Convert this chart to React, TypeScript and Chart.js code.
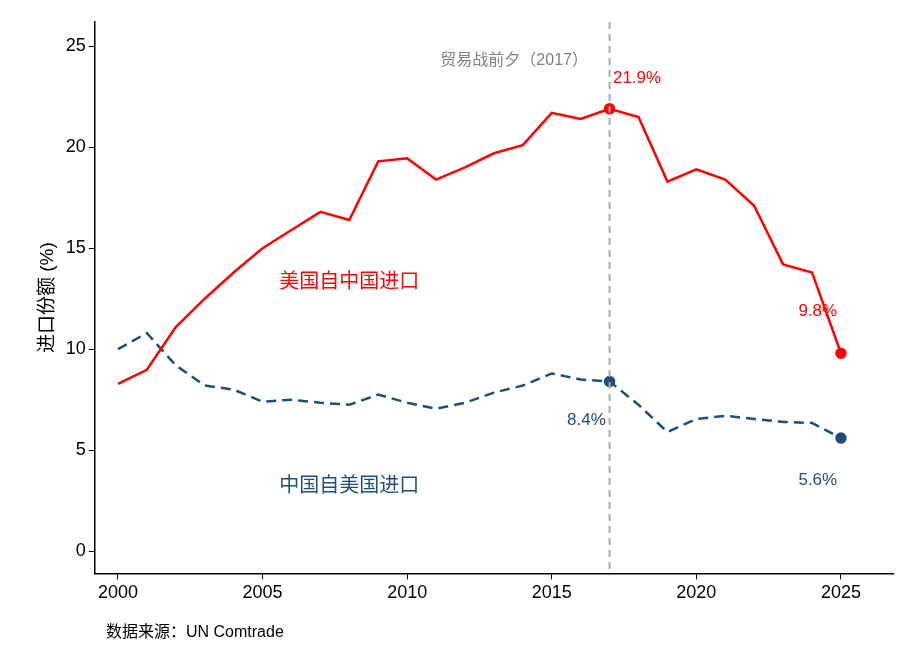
import React, { useEffect, useRef } from "react";
import { Chart, registerables } from "chart.js";
Chart.register(...registerables);

const years = [2000,2001,2002,2003,2004,2005,2006,2007,2008,2009,2010,2011,2012,2013,2014,2015,2016,2017,2018,2019,2020,2021,2022,2023,2024,2025];
const usFromChina = [8.28,8.98,11.1,12.5,13.8,15.0,15.9,16.8,16.4,19.3,19.45,18.4,19.0,19.7,20.1,21.7,21.4,21.9,21.5,18.3,18.9,18.4,17.1,14.2,13.8,9.8];
const chinaFromUS = [10.0,10.8,9.2,8.2,8.0,7.4,7.5,7.35,7.25,7.75,7.35,7.05,7.35,7.85,8.2,8.8,8.5,8.4,7.25,5.9,6.55,6.7,6.55,6.4,6.35,5.6];
const xTicks = [2000,2005,2010,2015,2020,2025];
const yTicks = [0,5,10,15,20,25];
const RED = "#ff0000";
const BLUE = "#1f4e79";
const FONT = "'Liberation Sans', 'Noto Sans CJK SC', sans-serif";

export default function App() {
  const ref = useRef<HTMLCanvasElement>(null);
  useEffect(() => {
    const labelsPlugin = {
      id: "labels",
      afterDatasetsDraw(chart: any) {
        const { ctx, scales: { x, y }, chartArea } = chart;
        ctx.save();
        ctx.strokeStyle = "#aaaaaa";
        ctx.lineWidth = 2;
        ctx.setLineDash([7, 5]);
        ctx.beginPath();
        ctx.moveTo(x.getPixelForValue(2017), chartArea.top);
        ctx.lineTo(x.getPixelForValue(2017), chartArea.bottom);
        ctx.stroke();
        ctx.setLineDash([]);
        const t = (s: string, xv: number, yv: number, c: string, size = 17) => {
          ctx.fillStyle = c;
          ctx.font = `${size}px ${FONT}`;
          ctx.textAlign = "center";
          ctx.textBaseline = "middle";
          ctx.fillText(s, x.getPixelForValue(xv), y.getPixelForValue(yv));
        };
        t("贸易战前夕（2017）", 2013.7, 24.3, "#808080", 16);
        t("21.9%", 2017.95, 23.4, RED);
        t("9.8%", 2024.2, 11.9, RED);
        t("8.4%", 2016.2, 6.5, BLUE);
        t("5.6%", 2024.2, 3.5, BLUE);
        t("美国自中国进口", 2008, 13.3, RED, 20);
        t("中国自美国进口", 2008, 3.2, BLUE, 20);
        ctx.fillStyle = "#000";
        ctx.font = `16px ${FONT}`;
        ctx.textAlign = "left";
        ctx.textBaseline = "middle";
        ctx.fillText("数据来源：UN Comtrade", 98, 625);
        ctx.restore();
      },
    };
    const ch = new Chart(ref.current!, {
      type: "line",
      data: {
        datasets: [
          {
            data: years.map((yr, i) => ({ x: yr, y: usFromChina[i] })),
            borderColor: RED, backgroundColor: RED, borderWidth: 2.5,
            pointRadius: years.map((yr) => (yr === 2017 || yr === 2025 ? 4.5 : 0)),
          },
          {
            data: years.map((yr, i) => ({ x: yr, y: chinaFromUS[i] })),
            borderColor: BLUE, backgroundColor: BLUE, borderWidth: 2.5, borderDash: [10, 6],
            pointRadius: years.map((yr) => (yr === 2017 || yr === 2025 ? 4.5 : 0)),
          },
        ],
      },
      options: {
        animation: false, responsive: false,
        layout: { padding: { top: 14, right: 17, bottom: 52, left: 24 } },
        plugins: { legend: { display: false }, tooltip: { enabled: false } },
        scales: {
          x: {
            type: "linear", min: 1999.2, max: 2026.8,
            afterBuildTicks: (a: any) => { a.ticks = xTicks.map((v) => ({ value: v })); },
            grid: { display: true, drawOnChartArea: false, drawTicks: true, tickLength: 6, color: "#000" },
            border: { color: "#000", width: 1.5 },
            ticks: { color: "#000", font: { size: 18, family: FONT }, callback: (v: any) => String(v) },
          },
          y: {
            min: -1.1, max: 26.2,
            afterBuildTicks: (a: any) => { a.ticks = yTicks.map((v) => ({ value: v })); },
            grid: { display: true, drawOnChartArea: false, drawTicks: true, tickLength: 6, color: "#000" },
            border: { color: "#000", width: 1.5 },
            title: { display: true, text: "进口份额 (%)", color: "#000", font: { size: 19, family: FONT } },
            ticks: { color: "#000", font: { size: 18, family: FONT } },
          },
        },
      },
      plugins: [labelsPlugin],
    } as any);
    return () => ch.destroy();
  }, []);
  return <canvas ref={ref} width={902} height={651} style={{ display: "block" }} />;
}
